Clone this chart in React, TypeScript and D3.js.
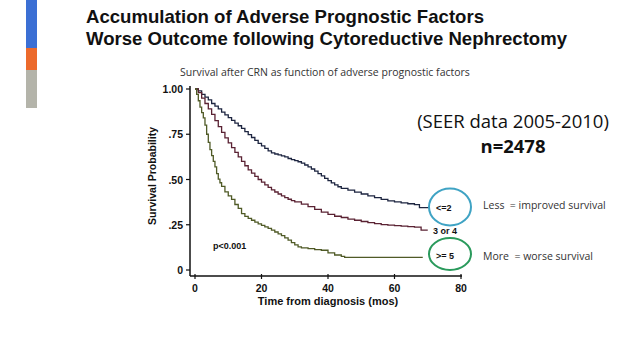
import React from "react";
import * as d3 from "d3";

type Pt = [number, number];

const xTicks = [0, 20, 40, 60, 80];
const yTicks = [1, 0.75, 0.5, 0.25, 0];
const yTickLabels = ["1.00", ".75", ".50", ".25", "0"];

const groupLabels = ["<=2", "3 or 4", ">= 5"];
const groupColors = ["#1d2540", "#5a2233", "#4f5a26"];

const survLow: Pt[] = [
  [0, 1.0], [1, 0.99], [2, 0.97], [3, 0.955], [4, 0.94], [5, 0.92], [6, 0.905], [7, 0.89],
  [8, 0.872], [9, 0.857], [10, 0.842], [11, 0.827], [12, 0.812], [13, 0.797], [14, 0.782],
  [15, 0.765], [16, 0.748], [17, 0.732], [18, 0.716], [19, 0.7], [20, 0.686], [21, 0.672],
  [22, 0.658], [23, 0.647], [24, 0.641], [25, 0.636], [26, 0.631], [27, 0.625], [28, 0.616],
  [29, 0.61], [30, 0.604], [31, 0.598], [32, 0.59], [33, 0.58], [34, 0.57], [35, 0.558],
  [36, 0.546], [37, 0.533], [38, 0.52], [39, 0.506], [40, 0.494], [41, 0.481], [42, 0.47],
  [43, 0.46], [44, 0.451], [46, 0.441], [48, 0.43], [50, 0.42], [52, 0.41], [54, 0.4],
  [56, 0.39], [58, 0.382], [60, 0.376], [62, 0.371], [64, 0.366], [66, 0.361], [67.5, 0.345],
  [70.5, 0.345],
];

const survMid: Pt[] = [
  [0, 1.0], [1, 0.98], [2, 0.95], [3, 0.92], [4, 0.89], [5, 0.86], [6, 0.825], [7, 0.792],
  [8, 0.76], [9, 0.73], [10, 0.702], [11, 0.676], [12, 0.65], [13, 0.625], [14, 0.6],
  [15, 0.576], [16, 0.553], [17, 0.535], [18, 0.517], [19, 0.5], [20, 0.485], [21, 0.47],
  [22, 0.456], [23, 0.443], [24, 0.431], [25, 0.42], [26, 0.41], [27, 0.4], [28, 0.391],
  [29, 0.383], [30, 0.376], [32, 0.364], [34, 0.35], [36, 0.335], [38, 0.32], [40, 0.307],
  [42, 0.297], [44, 0.29], [46, 0.281], [48, 0.275], [50, 0.268], [52, 0.262], [54, 0.256],
  [56, 0.251], [58, 0.248], [60, 0.245], [62, 0.242], [64, 0.24], [66, 0.237], [68, 0.22],
  [70, 0.22],
];

const survHigh: Pt[] = [
  [0, 1.0], [0.5, 0.97], [1, 0.935], [1.5, 0.9], [2, 0.87], [2.5, 0.84], [3, 0.8], [3.5, 0.75],
  [4, 0.705], [4.5, 0.665], [5, 0.632], [5.5, 0.6], [6, 0.57], [6.5, 0.532], [7, 0.502],
  [7.5, 0.482], [8, 0.462], [9, 0.432], [10, 0.41], [11, 0.39], [12, 0.362], [13, 0.34],
  [14, 0.312], [15, 0.296], [16, 0.285], [17, 0.275], [18, 0.265], [19, 0.255], [20, 0.246],
  [21, 0.238], [22, 0.23], [23, 0.22], [24, 0.21], [25, 0.2], [26, 0.19], [27, 0.178],
  [28, 0.165], [29, 0.151], [30, 0.139], [31, 0.128], [32, 0.122], [34, 0.118], [36, 0.113],
  [38, 0.109], [40, 0.095], [42, 0.083], [44, 0.075], [45, 0.07], [68.5, 0.07],
];

const series = [survLow, survMid, survHigh];

export default function App() {
  const x = d3.scaleLinear().domain([0, 80]).range([195, 461]);
  const y = d3.scaleLinear().domain([0, 1]).range([270, 89]);
  const line = d3
    .line<Pt>()
    .x((d) => x(d[0]))
    .y((d) => y(d[1]))
    .curve(d3.curveStepAfter);

  const axisX = 190;
  const axisY = 276;
  const sans = "'Liberation Sans', Arial, sans-serif";
  const light = "'Open Sans', 'Noto Sans', sans-serif";

  return (
    <div style={{ position: "absolute", left: 0, top: 0 }}>
      <svg width={638} height={355} style={{ display: "block", background: "#fff" }}>
        <rect x={0} y={0} width={638} height={355} fill="#ffffff" />
        {/* left accent bar */}
        <rect x={26} y={0} width={11} height={48} fill="#3b6fd4" />
        <rect x={26} y={48} width={11} height={22} fill="#ec6a2c" />
        <rect x={26} y={70} width={11} height={38} fill="#b4b4aa" />

        {/* titles */}
        <text x={86} y={23} fontFamily={sans} fontWeight="bold" fontSize={19} fill="#111"
          textLength={398} lengthAdjust="spacingAndGlyphs">
          Accumulation of Adverse Prognostic Factors
        </text>
        <text x={86} y={45} fontFamily={sans} fontWeight="bold" fontSize={19} fill="#111"
          textLength={481} lengthAdjust="spacingAndGlyphs">
          Worse Outcome following Cytoreductive Nephrectomy
        </text>

        <text x={325} y={76} textAnchor="middle" fontFamily={light} fontSize={10.5} fill="#333">
          Survival after CRN as function of adverse prognostic factors
        </text>

        {/* axes */}
        <line x1={axisX} y1={86} x2={axisX} y2={axisY} stroke="#111" strokeWidth={1.5} />
        <line x1={axisX} y1={axisY} x2={x(80) + 1} y2={axisY} stroke="#111" strokeWidth={1.5} />
        {yTicks.map((t, i) => (
          <g key={"y" + i}>
            <line x1={axisX - 4} x2={axisX} y1={y(t)} y2={y(t)} stroke="#111" strokeWidth={1.2} />
            <text
              x={axisX - 7}
              y={y(t) + 4}
              textAnchor="end"
              fontFamily={sans}
              fontWeight="bold"
              fontSize={10.5}
              fill="#111"
            >
              {yTickLabels[i]}
            </text>
          </g>
        ))}
        {xTicks.map((t) => (
          <g key={"x" + t}>
            <line x1={x(t)} x2={x(t)} y1={axisY - 2} y2={axisY + 3} stroke="#111" strokeWidth={1.2} />
            <text
              x={x(t)}
              y={axisY + 16}
              textAnchor="middle"
              fontFamily={sans}
              fontWeight="bold"
              fontSize={10.5}
              fill="#111"
            >
              {t}
            </text>
          </g>
        ))}
        <text
          x={328}
          y={305}
          textAnchor="middle"
          fontFamily={sans}
          fontWeight="bold"
          fontSize={11}
          fill="#111"
        >
          Time from diagnosis (mos)
        </text>
        <text
          transform={`translate(156, 176) rotate(-90)`}
          textAnchor="middle"
          fontFamily={sans}
          fontWeight="bold"
          fontSize={10.5}
          fill="#111"
        >
          Survival Probability
        </text>

        {/* curves */}
        {series.map((s, i) => (
          <path key={"s" + i} d={line(s) || ""} fill="none" stroke={groupColors[i]} strokeWidth={1.3} />
        ))}

        <text x={213} y={249} fontFamily={sans} fontWeight="bold" fontSize={9} fill="#111">
          p&lt;0.001
        </text>

        {/* group labels & circles */}
        <ellipse cx={450} cy={207} rx={21} ry={18.5} fill="none" stroke="#3fa3c4" strokeWidth={2} />
        <ellipse cx={450} cy={254} rx={21} ry={16} fill="none" stroke="#2a9a5c" strokeWidth={2} />
        <text x={436} y={211} fontFamily={sans} fontWeight="bold" fontSize={9} fill="#111">
          {groupLabels[0]}
        </text>
        <text x={433} y={234} fontFamily={sans} fontWeight="bold" fontSize={9} fill="#111">
          {groupLabels[1]}
        </text>
        <text x={436} y={259} fontFamily={sans} fontWeight="bold" fontSize={9} fill="#111">
          {groupLabels[2]}
        </text>

        {/* annotations */}
        <text x={513} y={128} textAnchor="middle" fontFamily={light} fontSize={18.5} fill="#111">
          (SEER data 2005-2010)
        </text>
        <text x={513} y={153} textAnchor="middle" fontFamily={light} fontWeight="bold" fontSize={18.5} fill="#111">
          n=2478
        </text>
        <text x={483} y={209} fontFamily={light} fontSize={10.5} fill="#333" xmlSpace="preserve">
          Less  = improved survival
        </text>
        <text x={483} y={260} fontFamily={light} fontSize={10.5} fill="#333" xmlSpace="preserve">
          More  = worse survival
        </text>
      </svg>
    </div>
  );
}
